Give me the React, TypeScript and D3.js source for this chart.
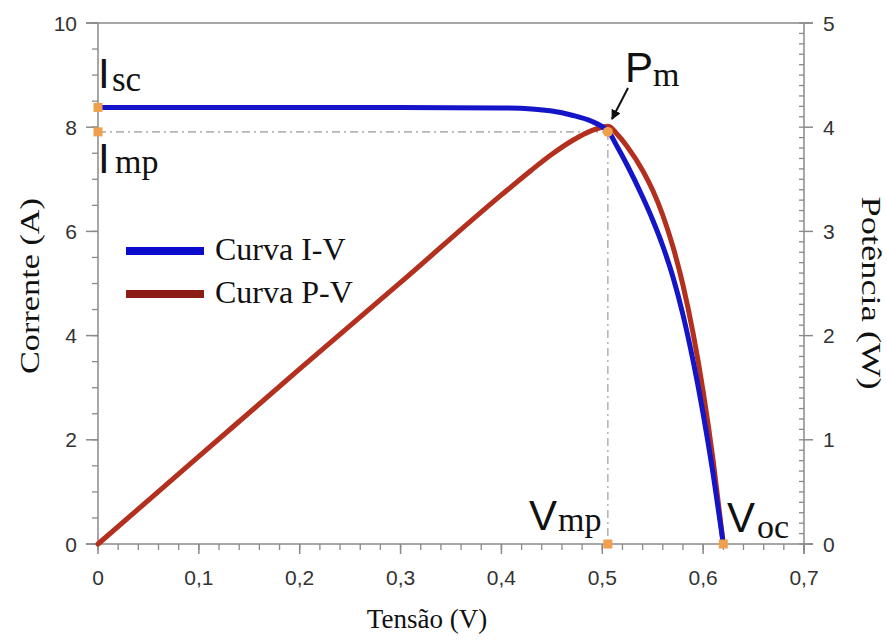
import React from "react";
import * as d3 from "d3";

// ---- Data ----
const ivVoltage = [0, 0.1, 0.2, 0.3, 0.4, 0.43, 0.45, 0.47, 0.49, 0.5, 0.506, 0.515, 0.525, 0.54, 0.55, 0.56, 0.57, 0.58, 0.59, 0.6, 0.61, 0.62];
const ivCurrent = [8.38, 8.38, 8.38, 8.38, 8.37, 8.35, 8.31, 8.23, 8.11, 8.01, 7.92, 7.62, 7.26, 6.66, 6.22, 5.72, 5.13, 4.4, 3.52, 2.5, 1.33, 0];
const pvVoltage = [0, 0.1, 0.2, 0.3, 0.4, 0.43, 0.45, 0.47, 0.49, 0.5, 0.506, 0.515, 0.525, 0.54, 0.55, 0.56, 0.57, 0.58, 0.59, 0.6, 0.61, 0.62];
const pvPower = [0, 0.84, 1.68, 2.51, 3.35, 3.59, 3.74, 3.87, 3.97, 4.0, 4.01, 3.93, 3.81, 3.585, 3.395, 3.155, 2.855, 2.485, 2.025, 1.465, 0.795, 0];

const Isc = 8.38;
const Imp = 7.91;
const Vmp = 0.5055;
const Voc = 0.62;

const xTicks = [0, 0.1, 0.2, 0.3, 0.4, 0.5, 0.6, 0.7];
const xTickLabels = ["0", "0,1", "0,2", "0,3", "0,4", "0,5", "0,6", "0,7"];
const yLeftTicks = [0, 2, 4, 6, 8, 10];
const yRightTicks = [0, 1, 2, 3, 4, 5];

const legendLabels = ["Curva I-V", "Curva P-V"];
const xTitle = "Tensão (V)";
const yLeftTitle = "Corrente (A)";
const yRightTitle = "Potência (W)";

// ---- Layout ----
const W = 887;
const H = 643;
const X0 = 98, X1 = 804;
const YB = 544, YT = 23;

const BLUE = "#1414c8";
const RED = "#b3301f";
const AXIS = "#8a8a8a";
const ORANGE = "#eea04c";
const SANS = "'Liberation Sans', Arial, sans-serif";
const SERIF = "'Liberation Serif', 'Times New Roman', serif";

export default function App() {
  const x = d3.scaleLinear().domain([0, 0.7]).range([X0, X1]);
  const yL = d3.scaleLinear().domain([0, 10]).range([YB, YT]);
  const yR = d3.scaleLinear().domain([0, 5]).range([YB, YT]);

  const ivPts: [number, number][] = ivVoltage.map((v, i) => [v, ivCurrent[i]]);
  const pvPts: [number, number][] = pvVoltage.map((v, i) => [v, pvPower[i]]);

  const ivLine = d3.line<[number, number]>().x(d => x(d[0])).y(d => yL(d[1])).curve(d3.curveMonotoneX);
  const pvLine = d3.line<[number, number]>().x(d => x(d[0])).y(d => yR(d[1])).curve(d3.curveMonotoneX);

  const xMinor = d3.range(0, 0.7001, 0.02);
  const yLMinor = d3.range(0, 10.001, 0.5);
  const yRMinor = d3.range(0, 5.001, 0.1);

  return (
    <svg width={W} height={H} style={{ position: "absolute", left: 0, top: 0, background: "#fff" }}>
      <defs>
        <marker id="arr" viewBox="0 0 10 10" refX="9" refY="5" markerWidth="5" markerHeight="5" orient="auto">
          <path d="M0,0 L10,5 L0,10 z" fill="#111" />
        </marker>
      </defs>
      <rect x={0} y={0} width={W} height={H} fill="#fff" />

      {/* axes frame */}
      <line x1={X0 - 12} x2={X1 + 9} y1={YT} y2={YT} stroke={AXIS} strokeWidth={1.5} />
      <line x1={X0 - 12} x2={X1 + 9} y1={YB} y2={YB} stroke={AXIS} strokeWidth={1.5} />
      <line x1={X0} x2={X0} y1={YT} y2={YB} stroke={AXIS} strokeWidth={1.5} />
      <line x1={X1} x2={X1} y1={YT} y2={YB + 10} stroke={AXIS} strokeWidth={1.5} />

      {/* bottom ticks */}
      {xMinor.map((t, i) => (
        <line key={"xm" + i} x1={x(t)} x2={x(t)} y1={YB} y2={YB + 6} stroke={AXIS} strokeWidth={1.3} />
      ))}
      {xTicks.map((t, i) => (
        <g key={"xt" + i}>
          <line x1={x(t)} x2={x(t)} y1={YB} y2={YB + 10} stroke={AXIS} strokeWidth={1.5} />
          <text x={x(t)} y={585} textAnchor="middle" fontFamily={SANS} fontSize={21} fill="#333">{xTickLabels[i]}</text>
        </g>
      ))}

      {/* left ticks */}
      {yLMinor.map((t, i) => (
        <line key={"ylm" + i} x1={X0 - 6} x2={X0} y1={yL(t)} y2={yL(t)} stroke={AXIS} strokeWidth={1.3} />
      ))}
      {yLeftTicks.map((t, i) => (
        <g key={"ylt" + i}>
          <line x1={X0 - 12} x2={X0} y1={yL(t)} y2={yL(t)} stroke={AXIS} strokeWidth={1.5} />
          <text x={77} y={yL(t) + 7.5} textAnchor="end" fontFamily={SANS} fontSize={21} fill="#333">{t}</text>
        </g>
      ))}

      {/* right ticks */}
      {yRMinor.map((t, i) => (
        <line key={"yrm" + i} x1={X1 - 5} x2={X1} y1={yR(t)} y2={yR(t)} stroke={AXIS} strokeWidth={1.3} />
      ))}
      {yRightTicks.map((t, i) => (
        <g key={"yrt" + i}>
          <line x1={X1} x2={X1 + 9} y1={yR(t)} y2={yR(t)} stroke={AXIS} strokeWidth={1.5} />
          <text x={823} y={yR(t) + 7.5} textAnchor="start" fontFamily={SANS} fontSize={21} fill="#333">{t}</text>
        </g>
      ))}

      {/* axis titles */}
      <text x={427} y={628} textAnchor="middle" fontFamily={SERIF} fontSize={27} fill="#111">{xTitle}</text>
      <text transform="translate(39,286) rotate(-90)" textAnchor="middle" fontFamily={SERIF} fontSize={28}
        textLength={176} lengthAdjust="spacingAndGlyphs" fill="#111">{yLeftTitle}</text>
      <text transform="translate(862,293) rotate(90)" textAnchor="middle" fontFamily={SERIF} fontSize={27}
        textLength={193} lengthAdjust="spacingAndGlyphs" fill="#111">{yRightTitle}</text>

      {/* reference dash-dot lines */}
      <line x1={x(0)} x2={x(Vmp)} y1={yL(Imp)} y2={yL(Imp)} stroke="#b5b5b5" strokeWidth={1.6} strokeDasharray="8,4,2,4" />
      <line x1={x(Vmp)} x2={x(Vmp)} y1={yL(Imp)} y2={yL(0)} stroke="#b5b5b5" strokeWidth={1.6} strokeDasharray="8,4,2,4" />

      {/* curves */}
      <path d={pvLine(pvPts) || ""} fill="none" stroke={RED} strokeWidth={5} strokeLinejoin="round" strokeLinecap="round" />
      <path d={ivLine(ivPts) || ""} fill="none" stroke={BLUE} strokeWidth={5} strokeLinejoin="round" strokeLinecap="round" />

      {/* key markers */}
      <rect x={x(0) - 4.5} y={yL(Isc) - 4.5} width={9} height={9} fill={ORANGE} />
      <rect x={x(0) - 4.5} y={yL(Imp) - 4.5} width={9} height={9} fill={ORANGE} />
      <rect x={x(Vmp) - 4.5} y={yL(0) - 4.5} width={9} height={9} fill={ORANGE} />
      <rect x={x(Voc) - 4.5} y={yL(0) - 4.5} width={9} height={9} fill={ORANGE} />
      <circle cx={x(Vmp)} cy={yL(Imp)} r={5} fill={ORANGE} />

      {/* arrow to Pm */}
      <line x1={628} y1={88} x2={612} y2={119} stroke="#111" strokeWidth={2} markerEnd="url(#arr)" />

      {/* annotations */}
      <text x={98} y={88} fontFamily={SANS} fontSize={42} fill="#111">I</text>
      <text x={112} y={91} fontFamily={SERIF} fontSize={35} fill="#111">sc</text>
      <text x={98} y={173} fontFamily={SANS} fontSize={42} fill="#111">I</text>
      <text x={115} y={173} fontFamily={SERIF} fontSize={34} fill="#111">mp</text>
      <text x={625} y={82} fontFamily={SANS} fontSize={42} fill="#111">P</text>
      <text x={653} y={86} fontFamily={SERIF} fontSize={34} fill="#111">m</text>
      <text x={529} y={530} fontFamily={SANS} fontSize={42} fill="#111">V</text>
      <text x={558} y={531} fontFamily={SERIF} fontSize={34} fill="#111">mp</text>
      <text x={727} y={532} fontFamily={SANS} fontSize={42} fill="#111">V</text>
      <text x={757} y={538} fontFamily={SERIF} fontSize={34} fill="#111">oc</text>

      {/* legend */}
      <line x1={126} x2={204} y1={251} y2={251} stroke="#0b0bcc" strokeWidth={8} />
      <line x1={126} x2={204} y1={294} y2={294} stroke="#8c1c16" strokeWidth={8} />
      <text x={215} y={260} fontFamily={SERIF} fontSize={32} fill="#111">{legendLabels[0]}</text>
      <text x={215} y={303} fontFamily={SERIF} fontSize={32} fill="#111">{legendLabels[1]}</text>
    </svg>
  );
}
